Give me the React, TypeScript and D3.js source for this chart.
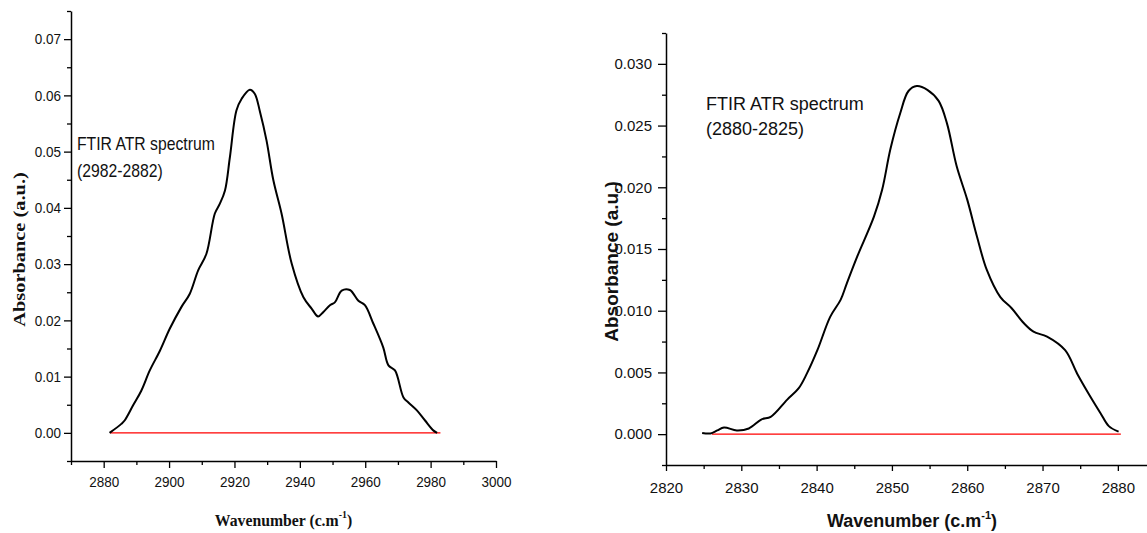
import React, { useEffect, useRef } from "react";
import * as d3 from "d3";

// ---------- Left panel (2982-2882) ----------
const leftWavenumber = [
  2881.8, 2885.4, 2886.4, 2889.0, 2891.5, 2894.1, 2897.2, 2900.2, 2903.8, 2906.3,
  2908.9, 2911.4, 2914.0, 2915.5, 2917.1, 2918.6, 2920.6, 2922.2, 2924.7, 2926.2,
  2927.8, 2929.8, 2931.9, 2934.4, 2937.5, 2941.1, 2943.6, 2945.6, 2947.2, 2949.2,
  2950.7, 2952.8, 2955.3, 2957.9, 2959.9, 2962.5, 2965.5, 2967.1, 2969.1, 2971.7,
  2973.2, 2975.8, 2978.3, 2980.9, 2982.0,
];
const leftAbsorbance = [
  0.0, 0.0016, 0.0022, 0.0049, 0.0075, 0.0111, 0.0146, 0.0185, 0.0224, 0.0247,
  0.0289, 0.0318, 0.039, 0.0407, 0.0431, 0.049, 0.0573, 0.0594, 0.061, 0.0603,
  0.0571, 0.052, 0.0449, 0.039, 0.0301, 0.0241, 0.0221, 0.0207, 0.0215, 0.0227,
  0.0232, 0.0253, 0.0254, 0.0235, 0.0227, 0.0194, 0.0152, 0.012, 0.0111, 0.0063,
  0.0054, 0.004, 0.0022, 0.0004, 0.0,
];
const leftBaselineX = [2882, 2983];
const leftYTicks = [0, 0.01, 0.02, 0.03, 0.04, 0.05, 0.06, 0.07];
const leftYMinor = [-0.005, 0.005, 0.015, 0.025, 0.035, 0.045, 0.055, 0.065, 0.075];
const leftXTicks = [2880, 2900, 2920, 2940, 2960, 2980, 3000];
const leftXMinor = [2870, 2890, 2910, 2930, 2950, 2970, 2990];
const leftAnnotation = ["FTIR ATR spectrum", "(2982-2882)"];

// ---------- Right panel (2880-2825) ----------
const rightWavenumber = [
  2824.8, 2825.9, 2826.8, 2827.7, 2829.4, 2831.0, 2832.7, 2833.9, 2836.1, 2837.6,
  2838.7, 2840.1, 2841.8, 2843.2, 2844.0, 2845.4, 2847.6, 2848.7, 2849.8, 2851.1,
  2852.2, 2853.3, 2854.7, 2856.2, 2857.3, 2858.6, 2860.0, 2861.3, 2862.6, 2864.4,
  2865.9, 2867.5, 2868.8, 2870.6, 2873.0, 2874.6, 2876.1, 2877.7, 2878.8, 2880.1,
];
const rightAbsorbance = [
  0.0001, 0.00006, 0.0003, 0.00054, 0.0003, 0.00046, 0.0012, 0.0014, 0.0028, 0.0037,
  0.0049, 0.0068, 0.0095, 0.0109, 0.0122, 0.0144, 0.0176, 0.0198, 0.0231, 0.026,
  0.0278, 0.0282, 0.0279, 0.027, 0.0252, 0.0217, 0.019, 0.016, 0.0133, 0.0111,
  0.0102, 0.009, 0.0083, 0.0079, 0.0068, 0.0049, 0.0033, 0.0017, 0.00065, 0.0002,
];
const rightBaselineX = [2826.1, 2880.4];
const rightYTicks = [0, 0.005, 0.01, 0.015, 0.02, 0.025, 0.03];
const rightYMinor = [-0.0025, 0.0025, 0.0075, 0.0125, 0.0175, 0.0225, 0.0275, 0.0325];
const rightXTicks = [2820, 2830, 2840, 2850, 2860, 2870, 2880];
const rightXMinor = [2825, 2835, 2845, 2855, 2865, 2875, 2885];
const rightAnnotation = ["FTIR ATR spectrum", "(2880-2825)"];

const SANS = "'Liberation Sans', Arial, sans-serif";
const SERIF = "'Liberation Serif', 'Times New Roman', serif";

type PanelCfg = {
  x: d3.ScaleLinear<number, number>;
  y: d3.ScaleLinear<number, number>;
  wn: number[];
  ab: number[];
  base: number[];
  yTicks: number[];
  yMinor: number[];
  xTicks: number[];
  xMinor: number[];
  yFmt: string;
  tickFont: number;
  k: number; // horizontal text squish
  yTick: number;
  yPad: number;
  xTick: number;
  xPad: number;
};

function drawPanel(svg: d3.Selection<SVGSVGElement, unknown, null, undefined>, c: PanelCfg) {
  const g = svg.append("g");
  const [x0, x1] = c.x.range();
  const [yb, yt] = c.y.range();

  // baseline (red)
  g.append("line")
    .attr("x1", c.x(c.base[0]))
    .attr("x2", c.x(c.base[1]))
    .attr("y1", c.y(0))
    .attr("y2", c.y(0))
    .attr("stroke", "#ff0000")
    .attr("stroke-width", 1.3);

  // spectrum
  const pts = c.wn.map((w, i) => [w, c.ab[i]] as [number, number]);
  const line = d3
    .line<[number, number]>()
    .x((d) => c.x(d[0]))
    .y((d) => c.y(d[1]))
    .curve(d3.curveCatmullRom.alpha(0.5));
  g.append("path")
    .attr("d", line(pts))
    .attr("fill", "none")
    .attr("stroke", "#000")
    .attr("stroke-width", 2)
    .attr("stroke-linejoin", "round");

  const styleAxis = (ax: d3.Selection<SVGGElement, unknown, null, undefined>, vertical: boolean) => {
    ax.select(".domain").attr("stroke-width", 1.5);
    ax.selectAll(".tick line").attr("stroke-width", 1.3);
    ax.selectAll<SVGTextElement, unknown>(".tick text")
      .attr("font-family", SANS)
      .attr("font-size", c.tickFont)
      .attr("fill", "#111")
      .each(function () {
        const el = this as SVGTextElement;
        if (vertical) {
          const xv = +(el.getAttribute("x") || 0);
          el.setAttribute("x", "0");
          el.setAttribute("transform", `translate(${xv},0) scale(${c.k},1)`);
        } else {
          el.setAttribute("transform", `scale(${c.k},1)`);
        }
      });
  };

  // Y axis minor
  const yMin = g.append("g").attr("transform", `translate(${x0},0)`)
    .call(d3.axisLeft(c.y).tickValues(c.yMinor).tickFormat(() => "").tickSize(4).tickSizeOuter(0));
  yMin.select(".domain").remove();
  yMin.selectAll(".tick line").attr("stroke-width", 1.3);
  // Y axis major
  const yAx = g.append("g").attr("transform", `translate(${x0},0)`)
    .call(
      d3.axisLeft(c.y).tickValues(c.yTicks).tickFormat(d3.format(c.yFmt) as any)
        .tickSize(c.yTick).tickPadding(c.yPad).tickSizeOuter(0)
    );
  styleAxis(yAx, true);

  // X axis minor
  const xMin = g.append("g").attr("transform", `translate(0,${yb})`)
    .call(d3.axisBottom(c.x).tickValues(c.xMinor).tickFormat(() => "").tickSize(4).tickSizeOuter(0));
  xMin.select(".domain").remove();
  xMin.selectAll(".tick line").attr("stroke-width", 1.3);
  // X axis major
  const xAx = g.append("g").attr("transform", `translate(0,${yb})`)
    .call(
      d3.axisBottom(c.x).tickValues(c.xTicks).tickFormat(d3.format("d") as any)
        .tickSize(c.xTick).tickPadding(c.xPad).tickSizeOuter(0)
    );
  styleAxis(xAx, false);
  return g;
}

export default function App() {
  const ref = useRef<SVGSVGElement | null>(null);

  useEffect(() => {
    const svg = d3.select(ref.current!);
    svg.selectAll("*").remove();

    // ----- left panel -----
    const xL = d3.scaleLinear().domain([2870, 3000]).range([71, 496]);
    const yL = d3.scaleLinear().domain([-0.005, 0.075]).range([461, 11]);
    drawPanel(svg, {
      x: xL, y: yL, wn: leftWavenumber, ab: leftAbsorbance, base: leftBaselineX,
      yTicks: leftYTicks, yMinor: leftYMinor, xTicks: leftXTicks, xMinor: leftXMinor,
      yFmt: ".2f", tickFont: 15, k: 0.9, yTick: 7, yPad: 3, xTick: 7, xPad: 8.7,
    });

    // left annotation
    leftAnnotation.forEach((t, i) => {
      svg.append("text")
        .attr("transform", `translate(77,${150 + i * 27}) scale(0.9,1)`)
        .attr("font-family", SANS).attr("font-size", 17.5).attr("fill", "#111")
        .text(t);
    });
    // left x title
    const lxt = svg.append("text")
      .attr("transform", "translate(283.5,526) scale(0.9,1)")
      .attr("text-anchor", "middle")
      .attr("font-family", SERIF).attr("font-weight", "bold").attr("font-size", 17.5)
      .attr("fill", "#111");
    lxt.append("tspan").text("Wavenumber (c.m");
    lxt.append("tspan").attr("font-size", 11).attr("dy", -8).text("-1");
    lxt.append("tspan").attr("dy", 8).text(")");
    // left y title
    svg.append("text")
      .attr("transform", "translate(25,249.5) rotate(-90) scale(1,0.85)")
      .attr("text-anchor", "middle")
      .attr("font-family", SERIF).attr("font-weight", "bold").attr("font-size", 20.4)
      .attr("fill", "#111")
      .text("Absorbance (a.u.)");

    // ----- right panel -----
    const xR = d3.scaleLinear().domain([2820, 2885]).range([666, 1155.5]);
    const yR = d3.scaleLinear().domain([-0.0025, 0.0325]).range([465, 33]);
    drawPanel(svg, {
      x: xR, y: yR, wn: rightWavenumber, ab: rightAbsorbance, base: rightBaselineX,
      yTicks: rightYTicks, yMinor: rightYMinor, xTicks: rightXTicks, xMinor: rightXMinor,
      yFmt: ".3f", tickFont: 15, k: 1, yTick: 8, yPad: 6, xTick: 6, xPad: 11.4,
    });

    rightAnnotation.forEach((t, i) => {
      svg.append("text")
        .attr("transform", `translate(706,${110 + i * 25})`)
        .attr("font-family", SANS).attr("font-size", 18).attr("fill", "#111")
        .text(t);
    });
    const rxt = svg.append("text")
      .attr("transform", "translate(912,527)")
      .attr("text-anchor", "middle")
      .attr("font-family", SANS).attr("font-weight", "bold").attr("font-size", 18)
      .attr("fill", "#111");
    rxt.append("tspan").text("Wavenumber (c.m");
    rxt.append("tspan").attr("font-size", 11).attr("dy", -8).text("-1");
    rxt.append("tspan").attr("dy", 8).text(")");
    svg.append("text")
      .attr("transform", "translate(618,261.5) rotate(-90)")
      .attr("text-anchor", "middle")
      .attr("font-family", SANS).attr("font-weight", "bold").attr("font-size", 19)
      .attr("fill", "#111")
      .text("Absorbance (a.u.)");
  }, []);

  return (
    <div style={{ position: "absolute", left: 0, top: 0, width: 1147, height: 533, background: "#fff" }}>
      <svg ref={ref} width={1147} height={533} style={{ display: "block" }} />
    </div>
  );
}
